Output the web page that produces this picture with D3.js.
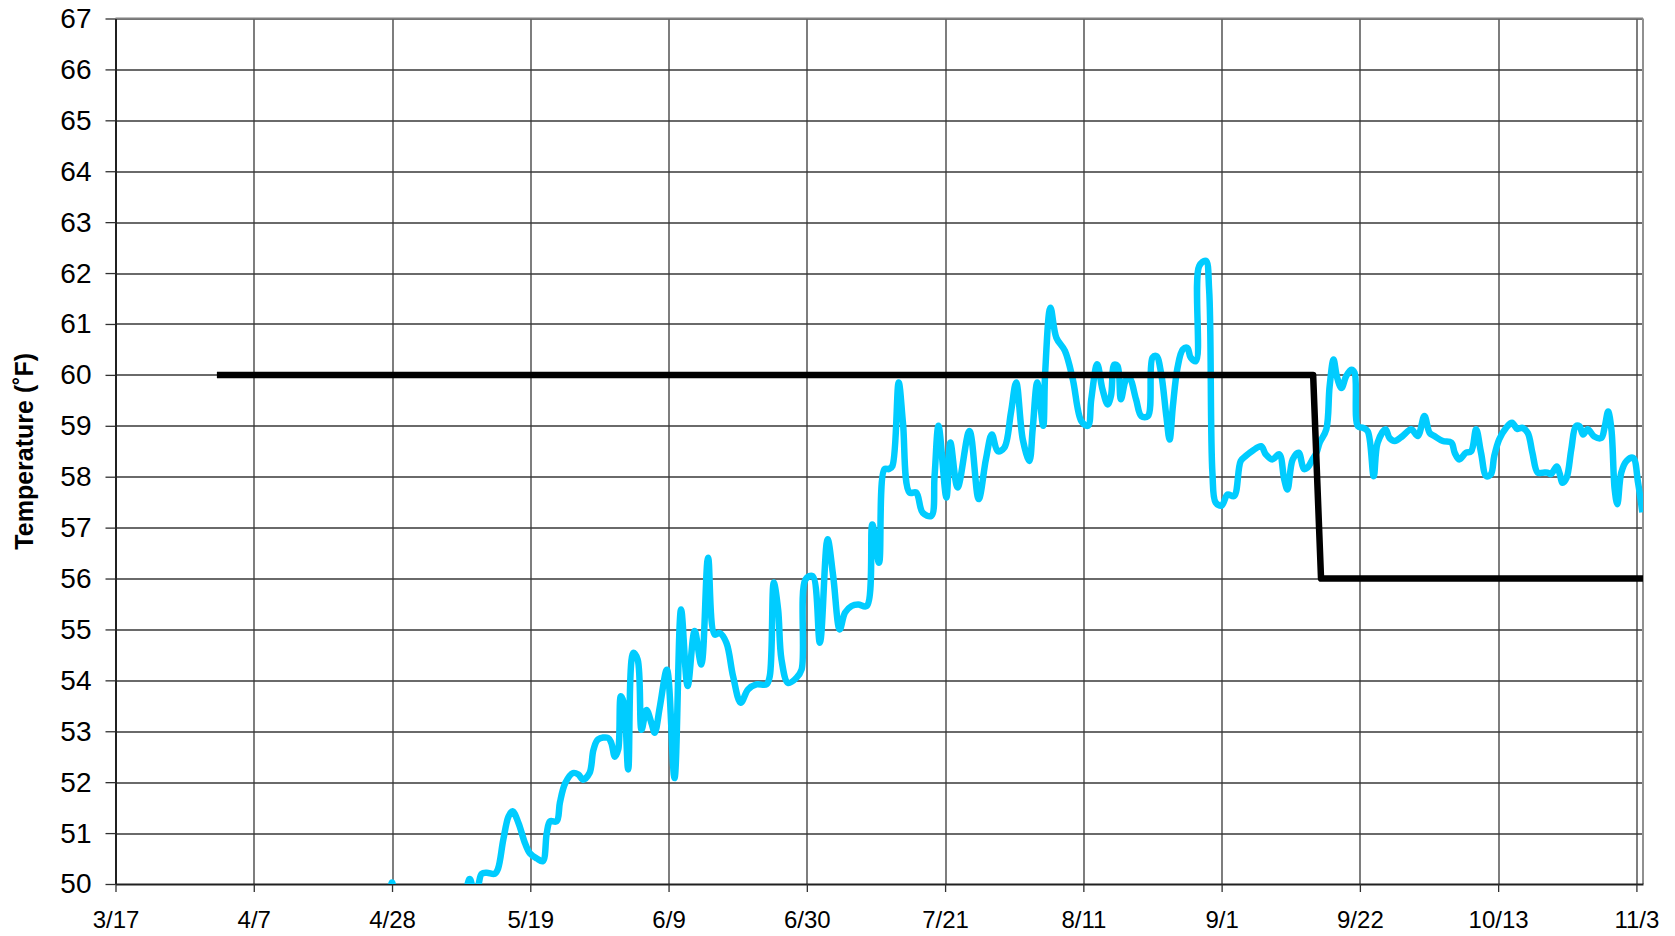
<!DOCTYPE html>
<html>
<head>
<meta charset="utf-8">
<script src="https://cdn.jsdelivr.net/npm/d3@7"></script>
<style>
  body { margin: 0; background: #ffffff; }
  svg { display: block; font-family: Arial, "Liberation Sans", sans-serif; }
</style>
</head>
<body>
<svg id="chart" width="1675" height="936"></svg>
<script>
// ---------------- data ----------------
const startDate = "2009-03-17";
const endDate = "2009-11-04";

const xTickDates = ["2009-03-17", "2009-04-07", "2009-04-28", "2009-05-19", "2009-06-09", "2009-06-30",
  "2009-07-21", "2009-08-11", "2009-09-01", "2009-09-22", "2009-10-13", "2009-11-03"];
const xTickLabels = ["3/17", "4/7", "4/28", "5/19", "6/9", "6/30", "7/21", "8/11", "9/1", "9/22", "10/13", "11/3"];

const yTicks = [50, 51, 52, 53, 54, 55, 56, 57, 58, 59, 60, 61, 62, 63, 64, 65, 66, 67];
const yTitle = "Temperature (˚F)";

// measured temperature: days since 3/17 and value (°F)
const tempDays = [
  35, 41.6, 42.0, 42.4, 48, 53.0, 53.8, 54.4, 55.0, 55.6, 56.4, 57.6, 58.1, 58.9, 59.7, 60.3, 61.2, 62.2, 62.95,
  64.0, 64.9, 65.5, 66.0, 67.0, 67.5, 68.3, 69.5, 70.3, 71.0, 72.0, 72.6, 73.3, 74.8, 75.3, 75.85, 76.35, 76.76,
  77.2, 77.87, 78.63, 79.3, 79.9, 80.65, 81.4, 81.9, 82.7, 83.75, 84.9, 85.9, 86.9, 87.96, 88.97, 90.0, 91.0,
  91.76, 92.78, 93.8, 94.96, 96.07, 97.34, 98.87, 99.37, 99.98, 100.64, 101.15, 102.16, 103.43, 104.2, 104.8,
  105.87, 106.98, 108.15, 109.0, 110.0, 110.8, 111.8, 112.8, 114.1, 114.95, 115.96, 116.8, 117.5, 118.0, 118.95,
  119.6, 120.6, 121.6, 122.6, 123.9, 124.4, 125.0, 126.2, 126.8, 127.9, 129.7, 131.1, 132.2, 133.1, 134.0, 135.0,
  136.0, 136.8, 137.8, 138.8, 139.3, 140.0, 140.9, 141.2, 142.0, 142.9, 144.2, 145.4, 146.7, 147.7, 148.2, 149.1,
  149.9, 150.7, 151.2, 151.7, 152.2, 152.7, 153.5, 154.0, 155.0, 155.8, 156.8, 157.5, 158.1, 158.8, 159.6, 160.1,
  160.6, 161.3, 162.1, 162.8, 163.3, 164.1, 164.6, 165.6, 166.1, 166.6, 167.1, 168.0, 168.9, 169.9, 170.9, 171.7,
  172.7, 174.0, 174.7, 175.7, 176.75, 177.5, 178.0, 178.8, 179.7, 180.5, 181.05, 181.8, 182.4, 182.9, 183.9, 184.4,
  185.0, 185.5, 186.2, 186.9, 187.7, 188.2, 188.7, 189.5, 190.2, 191.1, 191.7, 192.9, 193.5, 194.3, 195.5, 196.8,
  197.8, 198.8, 199.6, 200.3, 201.6, 202.9, 203.4, 204.1, 205.1, 205.9, 206.65, 207.4, 208.2, 208.9, 209.4, 210.15,
  211.2, 212.1, 212.9, 213.7, 214.5, 215.2, 216.0, 216.8, 217.5, 218.0, 218.9, 219.3, 219.8, 220.4, 221.1, 221.8,
  222.35, 222.9, 223.6, 224.6, 225.65, 226.2, 226.7, 227.2, 227.7, 228.1, 228.7, 229.5, 230.5, 231.25, 231.9
];
const tempValues = [
  49.3, 49.9, 50.03, 49.9, 49.4, 49.85, 50.1, 49.9, 49.95, 50.2, 50.22, 50.2, 50.3, 50.87, 51.33, 51.43, 51.2, 50.8, 50.6,
  50.5, 50.45, 51.0, 51.23, 51.23, 51.6, 51.98, 52.18, 52.15, 52.05, 52.18, 52.64, 52.84, 52.87, 52.77, 52.5, 52.64, 53.69,
  53.56, 52.25, 54.54, 54.41, 53.03, 53.42, 53.16, 52.97, 53.5, 54.21, 52.08, 55.39, 53.89, 54.97, 54.31, 56.41, 54.9,
  54.93, 54.74, 54.08, 53.56, 53.82, 53.92, 53.92, 54.08, 55.92, 55.39, 54.41, 53.95, 54.05, 54.21, 55.98,
  56.05, 54.74, 56.77, 56.05, 55.0, 55.33, 55.46, 55.49, 55.46, 57.06, 56.31, 58.15, 58.15, 58.21, 59.85,
  59.06, 57.69, 57.69, 57.29, 57.23, 58.01, 59.0, 57.59, 58.67, 57.79, 58.9, 57.56, 58.34, 58.83, 58.5, 58.57,
  59.26, 59.85, 58.73, 58.31, 58.93, 59.85, 59.0, 60.04, 61.32, 60.73, 60.47, 59.91, 59.09, 59.0, 59.52, 60.21,
  59.72, 59.42, 59.59, 60.2, 60.17, 59.52, 59.91, 59.94, 59.52, 59.19, 59.19, 60.34, 60.37, 60.04, 59.19, 58.73,
  59.39, 60.14, 60.5, 60.53, 60.34, 60.27, 62.14, 62.24, 61.68, 58.08, 57.49, 57.43, 57.65, 57.62, 58.31, 58.41,
  58.51, 58.6, 58.44, 58.34, 58.44, 57.95, 57.75, 58.34, 58.47, 58.15, 58.18, 58.34, 58.47, 58.67, 58.93, 59.77,
  60.3, 59.97, 59.74, 59.97, 60.1, 60.04, 58.99, 58.96, 58.89, 58.01, 58.67, 58.93, 58.76, 58.7, 58.8, 58.93,
  58.8, 59.19, 58.86, 58.8, 58.7, 58.67, 58.47, 58.34, 58.47, 58.5, 58.93, 58.47, 58.01, 58.05, 58.4, 58.73,
  58.96, 59.06, 58.94, 58.96, 58.86, 58.47, 58.08, 58.08, 58.08, 58.05, 58.2, 58.08, 57.88, 57.98, 58.53, 58.99,
  58.99, 58.83, 58.93, 58.79, 58.76, 58.99, 59.28, 58.93, 57.75, 57.46, 58.08, 58.31, 58.37, 57.88, 57.3
];

// setpoint line: days since 3/17 and value (°F)
const setpointDays = [15.4, 181.9, 183.1, 232];
const setpointValues = [60, 60, 56, 56];

// ---------------- chart ----------------
const parse = d3.utcParse("%Y-%m-%d");
const t0 = parse(startDate);
const dayToDate = d => new Date(t0.getTime() + d * 864e5);

const svg = d3.select("#chart");
const margin = { left: 115.5, top: 18.5, right: 1675 - 1643, bottom: 936 - 884 };
const W = 1675 - margin.left - margin.right;
const H = 936 - margin.top - margin.bottom;

const x = d3.scaleUtc().domain([t0, parse(endDate)]).range([0, W]);
const y = d3.scaleLinear().domain([50, 67]).range([H, 0]);

const g = svg.append("g").attr("transform", `translate(${margin.left},${margin.top})`);

// clip
svg.append("defs").append("clipPath").attr("id", "plotClip")
  .append("rect").attr("x", 0).attr("y", 0).attr("width", W).attr("height", H);

// gridlines
const grid = g.append("g").attr("class", "grid");
grid.selectAll("line.h").data(yTicks.filter(v => v > 50)).join("line")
  .attr("class", "h")
  .attr("x1", 0).attr("x2", W)
  .attr("y1", d => Math.round(y(d)) + 0.5).attr("y2", d => Math.round(y(d)) + 0.5)
  .attr("stroke", "#383838").attr("stroke-width", 1.3);
grid.selectAll("line.v").data(xTickDates.slice(1).map(parse)).join("line")
  .attr("class", "v")
  .attr("x1", d => Math.round(x(d)) + 0.5).attr("x2", d => Math.round(x(d)) + 0.5)
  .attr("y1", 0).attr("y2", H)
  .attr("stroke", "#383838").attr("stroke-width", 1.3);

// plot border (top and right)
g.append("line").attr("x1", 0).attr("x2", W).attr("y1", 0).attr("y2", 0)
  .attr("stroke", "#808080").attr("stroke-width", 2);
g.append("line").attr("x1", W).attr("x2", W).attr("y1", 0).attr("y2", H)
  .attr("stroke", "#909090").attr("stroke-width", 2);

// axes
const labelMap = new Map(xTickDates.map((d, i) => [+parse(d), xTickLabels[i]]));
const xAxis = d3.axisBottom(x)
  .tickValues(xTickDates.map(parse))
  .tickFormat(d => labelMap.get(+d))
  .tickSize(8).tickSizeOuter(0).tickPadding(19);
const yAxis = d3.axisLeft(y)
  .tickValues(yTicks)
  .tickFormat(d3.format("d"))
  .tickSize(10).tickSizeOuter(0).tickPadding(14);

const gx = g.append("g").attr("transform", `translate(0,${H})`).call(xAxis);
const gy = g.append("g").call(yAxis);
[gx, gy].forEach(a => {
  a.select(".domain").attr("stroke", "#202020").attr("stroke-width", 2);
  a.selectAll(".tick line").attr("stroke", "#303030").attr("stroke-width", 1.3);
  a.selectAll("text").attr("fill", "#000").attr("font-family", "Arial, 'Liberation Sans', sans-serif");
});
gx.selectAll("text").attr("font-size", 24);
gy.selectAll("text").attr("font-size", 28);

// y title
svg.append("text")
  .attr("transform", `translate(24,${margin.top + H / 2}) rotate(-90)`)
  .attr("text-anchor", "middle")
  .attr("dominant-baseline", "central")
  .attr("font-size", 25).attr("font-weight", "bold").attr("fill", "#000")
  .text(yTitle);

// series
const plot = g.append("g").attr("clip-path", "url(#plotClip)");

const tempLine = d3.line()
  .x((d, i) => x(dayToDate(tempDays[i])))
  .y(d => y(d))
  .curve(d3.curveCatmullRom.alpha(0.5));
plot.append("path").datum(tempValues)
  .attr("d", tempLine)
  .attr("fill", "none").attr("stroke", "#00CCFF").attr("stroke-width", 6.5)
  .attr("stroke-linejoin", "round").attr("stroke-linecap", "butt");

const setLine = d3.line()
  .x((d, i) => x(dayToDate(setpointDays[i])))
  .y(d => y(d));
plot.append("path").datum(setpointValues)
  .attr("d", setLine)
  .attr("fill", "none").attr("stroke", "#000").attr("stroke-width", 6.5)
  .attr("stroke-linejoin", "round").attr("stroke-linecap", "butt");
</script>
</body>
</html>
